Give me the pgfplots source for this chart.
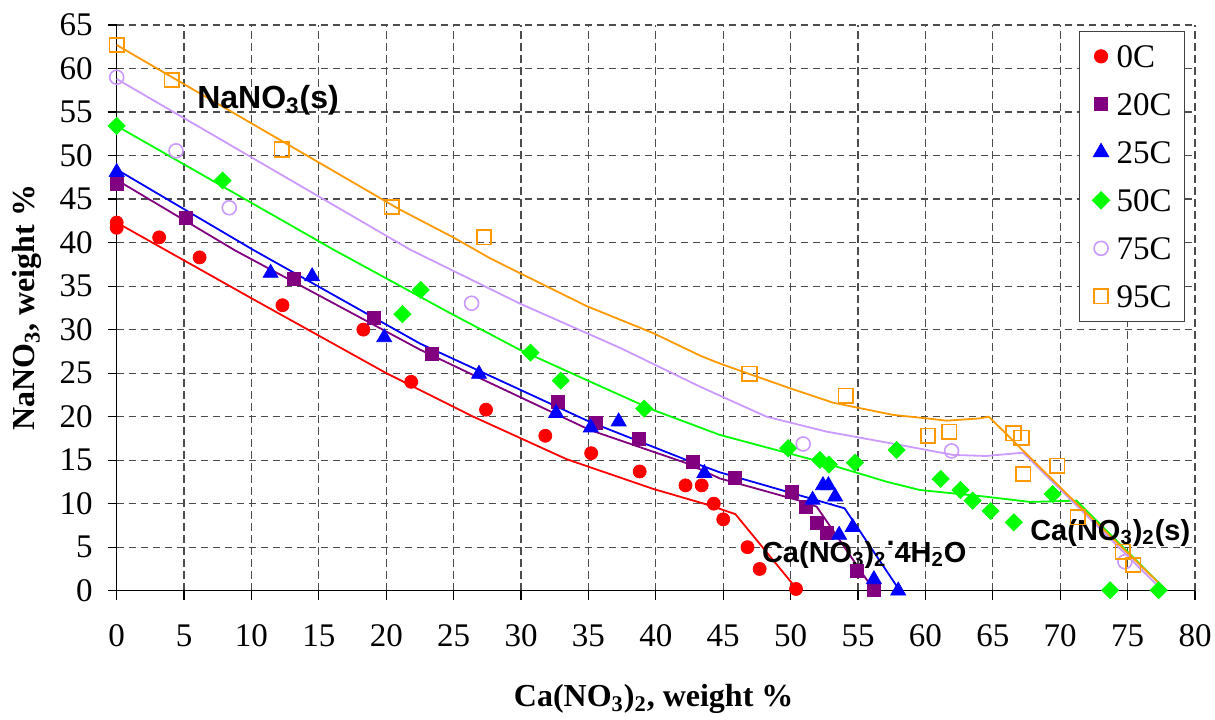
\documentclass[border=0pt]{standalone}
\usepackage{fontspec}
\setmainfont{Liberation Serif}
\newfontfamily\arial{Liberation Sans}
\usepackage{pgfplots}
\pgfplotsset{compat=1.18}
\definecolor{cA}{HTML}{FF0000}
\definecolor{cB}{HTML}{800080}
\definecolor{cC}{HTML}{0000FF}
\definecolor{cD}{HTML}{00FF00}
\definecolor{cE}{HTML}{CC99FF}
\definecolor{cF}{HTML}{FF9900}
\begin{document}
\begin{tikzpicture}
\begin{axis}[
  scale only axis, width=539.15pt, height=282.85pt,
  xmin=0, xmax=80, ymin=0, ymax=65,
  xtick={0,5,...,80}, ytick={0,5,...,65},
  axis x line*=bottom, axis y line*=left,
  axis line style={-, line width=0.75pt, black},
  tick align=outside, major tick length=4.5pt,
  tick style={black, line width=0.6pt},
  grid=major,
  major grid style={dash pattern=on 3.7pt off 2.3pt, color=black!70, line width=0.6pt},
  /pgf/number format/assume math mode=true,
  tick label style={font=\fontsize{16.5}{18}\selectfont},
  xticklabel style={yshift=-9pt},
  yticklabel style={xshift=-4pt},
  xlabel={\textbf{Ca(NO\textsubscript{3})\textsubscript{2}, weight \%}},
  ylabel={\textbf{NaNO\textsubscript{3}, weight \%}},
  label style={font=\fontsize{16}{18}\selectfont},
  xlabel style={at={(axis description cs:0.498,-0.191)}, anchor=center},
  ylabel style={at={(axis description cs:-0.0832,0.5)}, anchor=center},
  clip=false,
  legend style={at={(axis description cs:0.8924,0.9899)}, anchor=north west,
    draw=black!75, line width=0.6pt, fill=white,
    font=\fontsize{16.5}{18}\selectfont,
    nodes={inner sep=0pt, text height=11pt, text depth=0pt},
    row sep=13pt, inner xsep=6.5pt, inner ysep=7pt,
    /tikz/every odd column/.append style={column sep=3.5pt}},
  legend cell align=left,
]
% fitted lines
\addplot[cA, line width=0.9pt, forget plot] coordinates {(0,42.3)(10,33.6)(20,25.0)(26.45,20.0)(33.4,15.1)(39.8,11.7)(43.9,9.85)(45.9,8.8)(50.4,0.3)};
\addplot[cB, line width=0.9pt, forget plot] coordinates {(0,47.2)(8.78,39.1)(22.5,27.7)(26.7,24.6)(35.1,18.47)(42.3,14.64)(44.75,12.9)(48.46,11.3)(50.93,10.23)(51.93,9.66)(56.2,0)};
\addplot[cC, line width=0.9pt, forget plot] coordinates {(0,48.4)(10.13,39.16)(22.5,28.4)(35.1,19.4)(42.3,15.0)(44.75,13.6)(54.0,9.47)(58.1,0)};
\addplot[cD, line width=0.9pt, forget plot] coordinates {(0,53.4)(16.07,39.2)(24.73,31.9)(29.92,27.67)(34.87,24.2)(39.8,20.77)(44.75,17.9)(52.17,14.83)(54.64,13.68)(57.1,12.53)(59.6,11.57)(64.5,10.8)(67.75,10.2)(71.2,10.35)(77.9,0)};
\addplot[cE, line width=0.9pt, forget plot] coordinates {(0,58.8)(21.76,39.2)(29.9,33.0)(37.35,27.9)(43.27,23.45)(48.2,20.0)(52.67,18.28)(58.1,16.75)(62.06,15.6)(64.5,15.48)(67.25,15.86)(77.6,0)};
\addplot[cF, line width=0.9pt, forget plot] coordinates {(0,62.7)(21.0,43.8)(24.97,40.6)(27.7,38.2)(29.9,36.5)(34.87,32.7)(39.8,29.6)(43.3,27.0)(44.75,26.1)(49.95,23.26)(53.16,21.6)(57.6,20.2)(60.1,19.8)(61.57,19.54)(64.04,19.8)(64.7,20.0)(70.7,10.8)(77.9,0)};
% data points
\addplot[only marks, mark=*, mark size=3.25pt, draw=cA, fill=cA] coordinates {(0,42.3)(0,41.7)(3.15,40.6)(6.15,38.3)(12.3,32.8)(18.3,30.0)(21.85,24.0)(27.4,20.8)(31.8,17.8)(35.2,15.8)(38.8,13.7)(42.2,12.1)(43.4,12.1)(44.3,10.0)(45.0,8.2)(46.8,5.0)(47.7,2.5)(50.4,0.2)};
\addlegendentry{0C}
\addplot[only marks, mark=square*, mark size=3.25pt, draw=cB, fill=cB] coordinates {(0,46.7)(5.14,42.85)(13.13,35.8)(19.07,31.4)(23.37,27.24)(32.7,21.72)(35.56,19.24)(38.77,17.4)(42.77,14.83)(45.9,12.99)(50.07,11.38)(51.13,9.58)(51.97,7.74)(52.72,6.6)(54.94,2.23)(56.2,0.1)};
\addlegendentry{20C}
\addplot[only marks, mark=triangle*, mark size=4.3pt, draw=cC, fill=cC] coordinates {(0,48.1)(11.42,36.5)(14.5,36.1)(19.85,29.1)(26.88,24.9)(32.6,20.4)(35.17,18.74)(37.24,19.43)(43.6,13.5)(51.63,10.43)(52.4,12.1)(52.8,12.1)(53.3,10.8)(53.6,6.4)(54.6,7.3)(56.18,1.3)(57.98,0)};
\addlegendentry{25C}
\addplot[only marks, mark=square*, mark size=3.0pt, mark options={rotate=45}, draw=cD, fill=cD] coordinates {(0,53.4)(7.86,47.13)(21.2,31.77)(22.55,34.56)(30.7,27.36)(32.94,24.14)(39.14,20.92)(49.82,16.37)(52.17,15.02)(52.84,14.5)(54.77,14.71)(57.86,16.17)(61.13,12.84)(62.6,11.57)(63.5,10.35)(64.84,9.16)(66.56,7.86)(69.44,11.1)(73.7,0.05)(77.3,0.05)};
\addlegendentry{50C}
\addplot[only marks, mark=o, mark size=3.5pt, draw=cE, line width=0.8pt] coordinates {(0,59.0)(4.4,50.54)(8.35,44.0)(26.33,33.03)(50.93,16.86)(61.94,16.06)(74.8,3.33)};
\addlegendentry{75C}
\addplot[only marks, mark=square, mark size=3.6pt, draw=cF, line width=0.9pt] coordinates {(0,62.7)(4.08,58.7)(12.24,50.7)(20.4,44.07)(27.25,40.6)(46.95,24.93)(54.08,22.41)(60.19,17.82)(61.77,18.28)(66.54,18.09)(67.13,17.59)(67.26,13.41)(69.78,14.37)(71.29,8.44)(74.63,4.48)(75.42,2.95)};
\addlegendentry{95C}
% annotations
\node[anchor=west, inner sep=0pt, font=\arial\bfseries\fontsize{16}{18}\selectfont] at (axis cs:5.95,56.4) {NaNO\textsubscript{3}(s)};
\node[anchor=west, inner sep=0pt, font=\arial\bfseries\fontsize{14.5}{17}\selectfont] at (axis cs:47.85,4.1) {Ca(NO\textsubscript{3})\textsubscript{2}\raisebox{1.1ex}{.}4H\textsubscript{2}O};
\node[anchor=west, inner sep=0pt, font=\arial\bfseries\fontsize{14.5}{17}\selectfont] at (axis cs:67.75,6.63) {Ca(NO\textsubscript{3})\textsubscript{2}(s)};
\end{axis}
\pgfresetboundingbox
\path (-58.35pt,-64.15pt) rectangle (549.15pt,295.35pt);
\end{tikzpicture}
\end{document}
